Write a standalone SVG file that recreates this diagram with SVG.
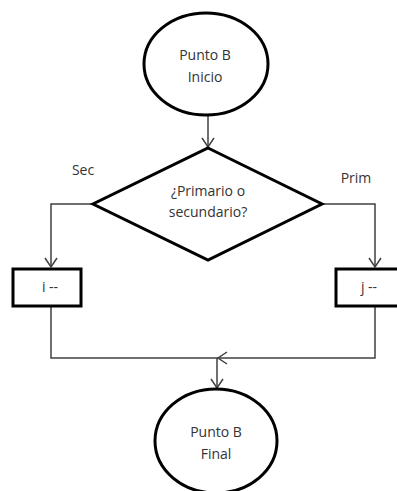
<svg xmlns="http://www.w3.org/2000/svg" width="397" height="491" viewBox="0 0 397 491">
<defs>
<style>
.shape{fill:#fff;stroke:#000;stroke-width:3}
.conn{fill:none;stroke:#404040;stroke-width:1.5}
.t{font-family:"Open Sans","Liberation Sans",sans-serif;font-size:14px;fill:#333;text-anchor:middle}
</style>
<marker id="arr" viewBox="-11 -8 13 16" refX="0" refY="0" markerWidth="13" markerHeight="16" markerUnits="userSpaceOnUse" orient="auto">
<path d="M-9,-6 L0,0 L-9,6" fill="none" stroke="#404040" stroke-width="1.5"/>
</marker>
</defs>
<rect width="397" height="491" fill="#fff"/>
<g id="connectors">
<path class="conn" d="M208,116 L208,147" marker-end="url(#arr)"/>
<path class="conn" d="M93,204 L51,204 L51,267" marker-end="url(#arr)"/>
<path class="conn" d="M322,204 L375,204 L375,267" marker-end="url(#arr)"/>
<path class="conn" d="M51,307 L51,358 L218,358"/>
<path class="conn" d="M375,307 L375,358 L218,358" marker-end="url(#arr)"/>
<path class="conn" d="M217,358 L217,388" marker-end="url(#arr)"/>
</g>
<g id="inicio">
<ellipse class="shape" cx="206" cy="64" rx="62" ry="51"/>
<text class="t" x="205" y="60">Punto B</text>
<text class="t" x="205" y="82">Inicio</text>
</g>
<g id="decision">
<polygon class="shape" points="208,148 322,204 208,260 93,204"/>
<text class="t" x="208" y="196">¿Primario o</text>
<text class="t" x="208" y="217">secundario?</text>
</g>
<text class="t" x="83" y="175">Sec</text>
<text class="t" x="356" y="183">Prim</text>
<g id="box-i">
<rect class="shape" x="13" y="269" width="68" height="37"/>
<text class="t" x="50" y="292">i --</text>
</g>
<g id="box-j">
<rect class="shape" x="336" y="269" width="70" height="37"/>
<text class="t" x="369" y="292">j --</text>
</g>
<g id="final">
<ellipse class="shape" cx="216" cy="441" rx="61" ry="52"/>
<text class="t" x="216" y="437">Punto B</text>
<text class="t" x="216" y="459">Final</text>
</g>
</svg>
